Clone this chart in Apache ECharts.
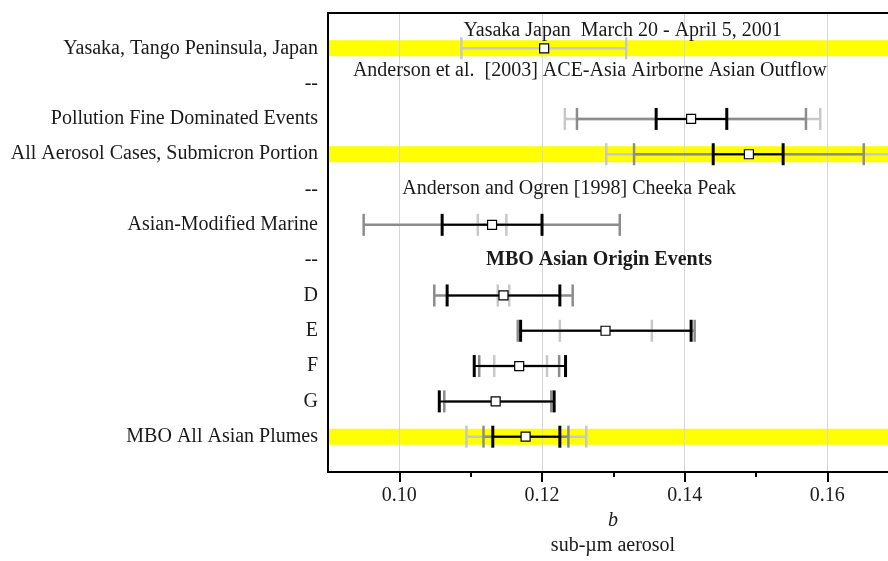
<!DOCTYPE html>
<html>
<head>
<meta charset="utf-8">
<script src="https://cdn.jsdelivr.net/npm/echarts@6/dist/echarts.min.js"></script>
<style>
  html, body { margin: 0; padding: 0; background: #ffffff; }
  #chart { width: 888px; height: 561px; }
</style>
</head>
<body>
<div id="chart"></div>
<script>
// ---------------- data ----------------
const categories = ['', 'Yasaka, Tango Peninsula, Japan', '--', 'Pollution Fine Dominated Events',
  'All Aerosol Cases, Submicron Portion', '--', 'Asian-Modified Marine', '--',
  'D', 'E', 'F', 'G', 'MBO All Asian Plumes', ''];
const highlighted = ['Yasaka, Tango Peninsula, Japan', 'All Aerosol Cases, Submicron Portion', 'MBO All Asian Plumes'];

const centers    = [null, 0.1203, null, 0.1409, 0.1490, null, 0.1130, null, 0.1146, 0.1289, 0.1168, 0.1135, 0.1177, null];
const blackLow   = [null, null,   null, 0.1360, 0.1440, null, 0.1060, null, 0.1067, 0.1170, 0.1105, 0.1056, 0.1131, null];
const blackHigh  = [null, null,   null, 0.1459, 0.1538, null, 0.1200, null, 0.1225, 0.1409, 0.1233, 0.1217, 0.1225, null];
const darkLow    = [null, null,   null, 0.1249, 0.1329, null, 0.0950, null, 0.1049, 0.1166, 0.1112, 0.1063, 0.1118, null];
const darkHigh   = [null, null,   null, 0.1570, 0.1651, null, 0.1309, null, 0.1243, 0.1414, 0.1224, 0.1213, 0.1237, null];
const lightLow   = [null, 0.1087, null, 0.1232, 0.1290, null, 0.1110, null, 0.1138, 0.1225, 0.1133, null,   0.1094, null];
const lightHigh  = [null, 0.1318, null, 0.1590, 0.1690, null, 0.1150, null, 0.1154, 0.1354, 0.1207, null,   0.1262, null];

const annotationTexts = ['Yasaka Japan  March 20 - April 5, 2001',
  'Anderson et al.  [2003] ACE-Asia Airborne Asian Outflow',
  'Anderson and Ogren [1998] Cheeka Peak',
  'MBO Asian Origin Events'];
const annotationX   = [0.1313, 0.1267, 0.1238, 0.1280];
const annotationRow = [1, 2, 5, 7];

const xMin = 0.09, xMax = 0.1685;
const majorTicks = [0.10, 0.12, 0.14, 0.16];
const minorTicks = [0.11, 0.13, 0.15];
const xTitle = 'b';
const xSubTitle = 'sub-\u00b5m aerosol';

// ---------------- chart ----------------
const FONT = '"Liberation Serif", "Times New Roman", serif';
const chart = echarts.init(document.getElementById('chart'), null, { renderer: 'canvas' });

function rangeData(lo, hi) {
  const out = [];
  for (let i = 0; i < categories.length; i++) {
    if (lo[i] != null && hi[i] != null) out.push([i, lo[i], hi[i]]);
  }
  return out;
}

function errRender(color, lw, capW) {
  return function (params, api) {
    const y = api.value(0);
    const p1 = api.coord([api.value(1), y]);
    const p2 = api.coord([api.value(2), y]);
    const h = 11;
    return {
      type: 'group',
      children: [
        { type: 'line', shape: { x1: p1[0], y1: p1[1], x2: p2[0], y2: p2[1] }, style: { stroke: color, lineWidth: lw } },
        { type: 'line', shape: { x1: p1[0], y1: p1[1] - h, x2: p1[0], y2: p1[1] + h }, style: { stroke: color, lineWidth: capW } },
        { type: 'line', shape: { x1: p2[0], y1: p2[1] - h, x2: p2[0], y2: p2[1] + h }, style: { stroke: color, lineWidth: capW } }
      ]
    };
  };
}

const bandData = categories.map(c => highlighted.includes(c) ? xMax : '-');
const markerData = [];
centers.forEach((v, i) => { if (v != null) markerData.push([v, i]); });
const annData = annotationTexts.map((t, k) => ({ value: [annotationX[k], annotationRow[k]], name: t }));
const annOffsets = [-18, -13, -1, 0];

const option = {
  animation: false,
  backgroundColor: '#ffffff',
  textStyle: { fontFamily: FONT },
  grid: { left: 328, top: 13, right: 0, height: 459, containLabel: false },
  xAxis: [
    {
      type: 'value', position: 'bottom', min: xMin, max: xMax, z: 5,
      axisLine: { show: true, lineStyle: { color: '#000', width: 2 } },
      axisTick: { show: true, customValues: majorTicks, length: 10, inside: false, lineStyle: { color: '#000', width: 2 } },
      axisLabel: { show: true, customValues: majorTicks, formatter: v => v.toFixed(2), fontFamily: FONT, fontSize: 20, color: '#1a1a1a', margin: 14 },
      splitLine: { show: true, lineStyle: { color: '#d6d6d6', width: 1 } },
      name: '{b|' + xTitle + '}\n{s|' + xSubTitle + '}',
      nameLocation: 'middle',
      nameGap: 33,
      nameTextStyle: {
        padding: [0, 0, 0, 10],
        rich: {
          b: { fontFamily: FONT, fontSize: 20, fontStyle: 'italic', color: '#1a1a1a', lineHeight: 25 },
          s: { fontFamily: FONT, fontSize: 20, color: '#1a1a1a', lineHeight: 25 }
        }
      }
    },
    {
      type: 'value', position: 'bottom', min: xMin, max: xMax, z: 5,
      axisLine: { show: false },
      axisTick: { show: true, customValues: minorTicks, length: 5, inside: false, lineStyle: { color: '#000', width: 2 } },
      axisLabel: { show: false },
      splitLine: { show: false }
    },
    {
      type: 'value', position: 'top', min: xMin, max: xMax, z: 5,
      axisLine: { show: true, lineStyle: { color: '#000', width: 2 } },
      axisTick: { show: false }, axisLabel: { show: false }, splitLine: { show: false }
    }
  ],
  yAxis: {
    type: 'category', data: categories, inverse: true, boundaryGap: false, z: 5,
    axisLine: { show: true, lineStyle: { color: '#000', width: 2 } },
    axisTick: { show: false },
    axisLabel: { interval: 0, fontFamily: FONT, fontSize: 20, color: '#1a1a1a', margin: 10 },
    splitLine: { show: false }
  },
  series: [
    {
      type: 'bar', data: bandData, barWidth: 16, z: 1, silent: true,
      itemStyle: { color: '#ffff00' }
    },
    {
      type: 'custom', z: 10, data: rangeData(lightLow, lightHigh), encode: { x: [1, 2], y: 0 },
      renderItem: errRender('#c8c8c8', 2.5, 2.5)
    },
    {
      type: 'custom', z: 11, data: rangeData(darkLow, darkHigh), encode: { x: [1, 2], y: 0 },
      renderItem: errRender('#8c8c8c', 2.5, 2.5)
    },
    {
      type: 'custom', z: 12, data: rangeData(blackLow, blackHigh), encode: { x: [1, 2], y: 0 },
      renderItem: errRender('#000000', 2, 3)
    },
    {
      type: 'scatter', z: 13, data: markerData, symbol: 'rect', symbolSize: 9,
      itemStyle: { color: '#ffffff', borderColor: '#000000', borderWidth: 1.2, opacity: 1 }
    },
    {
      type: 'scatter', z: 14, data: annData, symbolSize: 0, silent: true,
      itemStyle: { opacity: 1 },
      label: {
        show: true, position: 'inside', fontFamily: FONT, fontSize: 20, color: '#1a1a1a',
        formatter: p => p.name
      },
      labelLayout: function (p) { return { dy: annOffsets[p.dataIndex] }; }
    }
  ]
};
// bold for the MBO annotation
option.series[5].data[3].label = { fontWeight: 'bold' };
chart.setOption(option);
</script>
</body>
</html>
